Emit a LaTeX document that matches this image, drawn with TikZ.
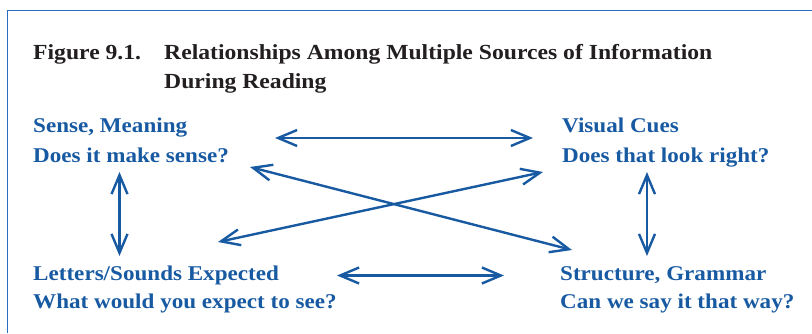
\documentclass[tikz,border=0pt]{standalone}
\usepackage{fontspec}
\setmainfont[FakeStretch=1.1]{Liberation Serif}
\usetikzlibrary{arrows.meta}
\definecolor{cueblue}{RGB}{24,90,162}
\definecolor{frameblue}{RGB}{40,110,190}
\definecolor{inkblack}{RGB}{35,31,32}
\tikzset{
  heading/.style={inner sep=0pt, anchor=base west, text=inkblack,
    font=\fontsize{21.5}{28.5}\selectfont\bfseries, align=left},
  cue/.style={inner sep=0pt, anchor=base west, text=cueblue,
    font=\fontsize{21}{30}\selectfont\bfseries, align=left},
  cuelow/.style={cue, font=\fontsize{21}{28}\selectfont\bfseries},
  link/.style={draw=cueblue, line width=2.4pt,
    {Straight Barb[length=19pt,width=16pt]}-{Straight Barb[length=19pt,width=16pt]}}
}
\begin{document}
\begin{tikzpicture}[x=1pt,y=-1pt]
  \useasboundingbox (0,0) rectangle (812,333);
  % open frame: top rule and left rule
  \draw[frameblue, line width=1.3pt] (812,10.5) -| (7.5,333);

  % heading (multi-line nodes sit on the baseline of their last line)
  \node[heading] (fig) at (33,59.5) {Figure 9.1.};
  \node[heading] (title) at (164,88) {Relationships Among Multiple Sources of Information\\During Reading};

  % the four sources
  \node[cue] (sense) at (33,162) {Sense, Meaning\\Does it make sense?};
  \node[cue] (visual) at (562,162) {Visual Cues\\Does that look right?};
  \node[cuelow] (letters) at (33,308.5) {Letters/Sounds Expected\\What would you expect to see?};
  \node[cuelow] (structure) at (560,308.5) {Structure, Grammar\\Can we say it that way?};

  % arrow end points
  \coordinate (sv1) at (275,138);   \coordinate (sv2) at (533,138);
  \coordinate (ls1) at (337,275.5); \coordinate (ls2) at (504,275.5);
  \coordinate (ss1) at (250,167);   \coordinate (ss2) at (572,250);
  \coordinate (lv1) at (218,242);   \coordinate (lv2) at (543,172);
  \coordinate (sl1) at (119.5,172); \coordinate (sl2) at (119.5,256);
  \coordinate (vs1) at (647,172);   \coordinate (vs2) at (647,256);

  \draw[link] (sv1) -- (sv2);
  \draw[link] (ls1) -- (ls2);
  \draw[link] (ss1) -- (ss2);
  \draw[link] (lv1) -- (lv2);
  \draw[link] (sl1) -- (sl2);
  \draw[link] (vs1) -- (vs2);
\end{tikzpicture}
\end{document}
